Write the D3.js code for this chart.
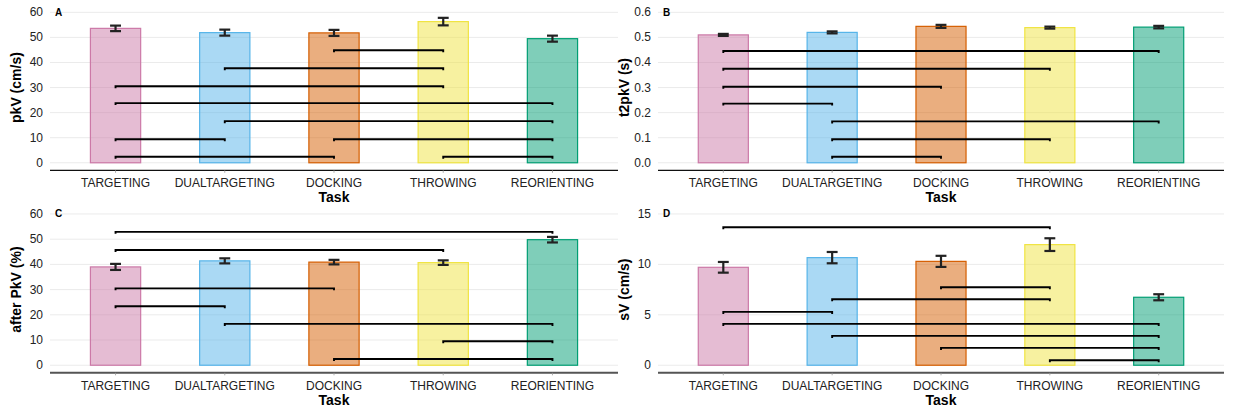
<!DOCTYPE html>
<html>
<head>
<meta charset="utf-8">
<script src="https://cdn.jsdelivr.net/npm/d3@7"></script>
<style>
  html, body { margin: 0; padding: 0; background: #fff; }
  svg { display: block; font-family: "Liberation Sans", Arial, Helvetica, sans-serif; }
</style>
</head>
<body>
<svg id="chart" width="1233" height="411"></svg>
<script>
const categories = ["TARGETING", "DUALTARGETING", "DOCKING", "THROWING", "REORIENTING"];
const strokeColors = ["#cc79a7", "#56b4e9", "#d55e00", "#f0e442", "#009e73"];

// Panel A: pkV (cm/s)
const pkV_mean = [53.6, 51.9, 51.8, 56.3, 49.5];
const pkV_se = [1.1, 1.2, 1.2, 1.5, 1.2];
const pkV_sig = [[2, 3, 44.9], [1, 3, 37.7], [0, 3, 30.5], [0, 4, 23.8], [1, 4, 16.6], [0, 1, 9.4], [2, 4, 9.4], [0, 2, 2.4], [3, 4, 2.4]];
const pkV_ticks = [0, 10, 20, 30, 40, 50, 60];

// Panel B: t2pkV (s)
const t2pkV_mean = [0.510, 0.520, 0.544, 0.539, 0.541];
const t2pkV_se = [0.004, 0.004, 0.006, 0.004, 0.005];
const t2pkV_sig = [[0, 4, 0.446], [0, 3, 0.375], [0, 2, 0.303], [0, 1, 0.236], [1, 4, 0.165], [1, 3, 0.094], [1, 2, 0.024]];
const t2pkV_ticks = [0, 0.1, 0.2, 0.3, 0.4, 0.5, 0.6];

// Panel C: after PkV (%)
const after_mean = [39.0, 41.4, 40.9, 40.7, 49.8];
const after_se = [1.2, 1.0, 0.9, 0.9, 1.1];
const after_sig = [[0, 4, 52.9], [0, 3, 45.7], [0, 2, 30.5], [0, 1, 23.4], [1, 4, 16.4], [3, 4, 9.5], [2, 4, 2.5]];
const after_ticks = [0, 10, 20, 30, 40, 50, 60];

// Panel D: sV (cm/s)
const sV_mean = [9.71, 10.67, 10.30, 11.96, 6.74];
const sV_se = [0.53, 0.56, 0.55, 0.63, 0.30];
const sV_sig = [[0, 3, 13.68], [2, 3, 7.73], [1, 3, 6.54], [0, 1, 5.29], [0, 4, 4.10], [1, 4, 2.91], [2, 4, 1.72], [3, 4, 0.50]];
const sV_ticks = [0, 5, 10, 15];

const svg = d3.select("#chart");

function drawPanel(p) {
  const g = svg.append("g");
  const x = d3.scaleLinear().domain([0.4, 5.6]).range([p.left, p.right]);
  const y = d3.scaleLinear().domain(p.ydomain).range([p.bottom, p.top]);

  // gridlines
  g.selectAll(".grid").data(p.ticks).enter().append("line")
    .attr("x1", p.left).attr("x2", p.right)
    .attr("y1", d => y(d)).attr("y2", d => y(d))
    .attr("stroke", "#ebebeb").attr("stroke-width", 1);

  // y tick labels
  g.selectAll(".ytl").data(p.ticks).enter().append("text")
    .attr("x", p.left - 7).attr("y", d => y(d))
    .attr("text-anchor", "end").attr("dominant-baseline", "central")
    .attr("font-size", 12).attr("fill", "#222")
    .text(d => p.fmt(d));

  // x axis line
  g.append("line")
    .attr("x1", p.left).attr("x2", p.right)
    .attr("y1", p.bottom).attr("y2", p.bottom)
    .attr("stroke", p.axisColor).attr("stroke-width", p.axisWidth);

  // x ticks
  g.selectAll(".xt").data(categories).enter().append("line")
    .attr("x1", (d, i) => x(i + 1)).attr("x2", (d, i) => x(i + 1))
    .attr("y1", p.bottom).attr("y2", p.bottom + 2.5)
    .attr("stroke", "#999").attr("stroke-width", 0.8);

  // x tick labels
  g.selectAll(".xtl").data(categories).enter().append("text")
    .attr("x", (d, i) => x(i + 1)).attr("y", p.bottom + 13)
    .attr("text-anchor", "middle").attr("dominant-baseline", "central")
    .attr("font-size", 12).attr("fill", "#222")
    .text(d => d);

  // x title
  g.append("text")
    .attr("x", (p.left + p.right) / 2).attr("y", p.bottom + 27)
    .attr("text-anchor", "middle").attr("dominant-baseline", "central")
    .attr("font-size", 14).attr("font-weight", "bold").attr("fill", "#000")
    .text("Task");

  // y title
  g.append("text")
    .attr("transform", `translate(${p.ytitleX},${(p.top + p.bottom) / 2}) rotate(-90)`)
    .attr("text-anchor", "middle").attr("dominant-baseline", "central")
    .attr("font-size", 14).attr("font-weight", "bold").attr("fill", "#000")
    .text(p.ytitle);

  // bars
  const bw = 0.46;
  g.selectAll(".bar").data(p.mean).enter().append("rect")
    .attr("x", (d, i) => x(i + 1 - bw / 2))
    .attr("width", x(1 + bw) - x(1))
    .attr("y", d => y(d))
    .attr("height", d => y(0) - y(d))
    .attr("fill", (d, i) => strokeColors[i]).attr("fill-opacity", 0.5)
    .attr("stroke", (d, i) => strokeColors[i]).attr("stroke-width", 1.2);

  // error bars
  const cw = 0.05;
  p.mean.forEach((m, i) => {
    const lo = y(m - p.se[i]), hi = y(m + p.se[i]);
    const cx = x(i + 1);
    g.append("line").attr("x1", cx).attr("x2", cx).attr("y1", lo).attr("y2", hi)
      .attr("stroke", "#222").attr("stroke-width", 2.2);
    [lo, hi].forEach(yy => {
      g.append("line").attr("x1", x(i + 1 - cw)).attr("x2", x(i + 1 + cw))
        .attr("y1", yy).attr("y2", yy)
        .attr("stroke", "#222").attr("stroke-width", 2.2);
    });
  });

  // significance lines
  p.sig.forEach(s => {
    const x1 = x(s[0] + 1), x2 = x(s[1] + 1), yy = y(s[2]);
    g.append("path")
      .attr("d", `M${x1},${yy + 2}V${yy}H${x2}V${yy + 2}`)
      .attr("fill", "none").attr("stroke", "#000").attr("stroke-width", 1.9);
  });

  // panel tag
  g.append("text")
    .attr("x", p.left + 5).attr("y", y(p.ticks[p.ticks.length - 1]))
    .attr("dominant-baseline", "central")
    .attr("font-size", 10).attr("font-weight", "bold").attr("fill", "#000")
    .text(p.tag);
}

const f0 = d => d3.format("d")(d);
const f1 = d => d3.format(".1f")(d);

drawPanel({ tag: "A", left: 50, right: 618, top: 4.8, bottom: 170.3, ydomain: [-3, 63],
  ticks: pkV_ticks, fmt: f0, mean: pkV_mean, se: pkV_se, sig: pkV_sig,
  ytitle: "pkV (cm/s)", ytitleX: 16, axisColor: "#111", axisWidth: 1.3 });
drawPanel({ tag: "B", left: 658, right: 1224, top: 4.8, bottom: 170.3, ydomain: [-0.03, 0.63],
  ticks: t2pkV_ticks, fmt: f1, mean: t2pkV_mean, se: t2pkV_se, sig: t2pkV_sig,
  ytitle: "t2pkV (s)", ytitleX: 624, axisColor: "#111", axisWidth: 1.3 });
drawPanel({ tag: "C", left: 50, right: 618, top: 206.4, bottom: 372.8, ydomain: [-3, 63],
  ticks: after_ticks, fmt: f0, mean: after_mean, se: after_se, sig: after_sig,
  ytitle: "after PkV (%)", ytitleX: 16, axisColor: "#555", axisWidth: 2 });
drawPanel({ tag: "D", left: 658, right: 1224, top: 206.4, bottom: 372.8, ydomain: [-0.75, 15.75],
  ticks: sV_ticks, fmt: f0, mean: sV_mean, se: sV_se, sig: sV_sig,
  ytitle: "sV (cm/s)", ytitleX: 624, axisColor: "#555", axisWidth: 2 });
</script>
</body>
</html>
